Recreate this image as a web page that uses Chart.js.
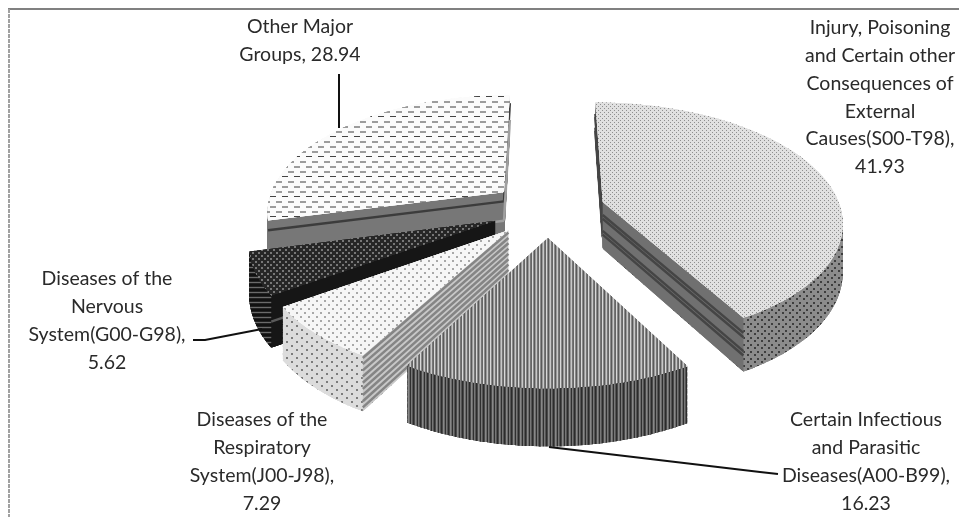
<!DOCTYPE html>
<html>
<head>
<meta charset="utf-8">
<style>
html, body { margin: 0; padding: 0; background: #fff; }
#wrap { width: 959px; height: 517px; }
canvas { filter: blur(0.5px); }
</style>
<script src="https://cdn.jsdelivr.net/npm/chart.js@4"></script>
</head>
<body>
<div id="wrap"><canvas id="myChart" width="959" height="517"></canvas></div>
<script>
let categories = [
  "Injury, Poisoning and Certain other Consequences of External Causes(S00-T98)",
  "Certain Infectious and Parasitic Diseases(A00-B99)",
  "Diseases of the Respiratory System(J00-J98)",
  "Diseases of the Nervous System(G00-G98)",
  "Other Major Groups"
];
let percentages = [41.93, 16.23, 7.29, 5.62, 28.94];

let labelLines = [
  ["Injury, Poisoning", "and Certain other", "Consequences of", "External", "Causes(S00-T98),", "41.93"],
  ["Certain Infectious", "and Parasitic", "Diseases(A00-B99),", "16.23"],
  ["Diseases of the", "Respiratory", "System(J00-J98),", "7.29"],
  ["Diseases of the", "Nervous", "System(G00-G98),", "5.62"],
  ["Other Major", "Groups, 28.94"]
];
let labelCentres = [[880, 28], [866, 420], [262, 420], [107, 279], [300, 27]];

// tilted pie: camera settings, nearer things get bigger
let camera = { cx: 548, cy: 209, tilt: 0.491, persp: 0.00065, depth: 47, explode: 57 };
let paintOrder = [4, 3, 0, 2, 1];

function tile(w, h, paint) {
  let c = document.createElement('canvas');
  c.width = w; c.height = h;
  let g = c.getContext('2d');
  paint(g);
  return g.createPattern(c, 'repeat');
}
function dots(w, h, bg, fg, list, dw, dh) {
  return tile(w, h, g => {
    g.fillStyle = bg; g.fillRect(0, 0, w, h);
    g.fillStyle = fg;
    list.forEach(p => g.fillRect(p[0], p[1], dw, dh));
  });
}
function vstripes(cols) {
  return tile(cols.length, 2, g => {
    cols.forEach((c, i) => { g.fillStyle = c; g.fillRect(i, 0, 1, 2); });
  });
}
function hstripes(cols) {
  return tile(2, cols.length, g => {
    cols.forEach((c, i) => { g.fillStyle = c; g.fillRect(0, i, 2, 1); });
  });
}
function dashRows() {
  return tile(12, 40, g => {
    g.fillStyle = '#fbfbfb'; g.fillRect(0, 0, 12, 40);
    for (let r = 0; r < 8; r++) {
      let dark = r == 3 || r == 7;
      g.fillStyle = dark ? '#444444' : '#9c9c9c';
      g.fillRect(r % 2 ? 6 : 0, r * 5 + 1, 6, dark ? 1 : 2);
    }
  });
}

let topFill = [
  dots(4, 4, '#e0e0e0', '#8e8e8e', [[0, 0], [2, 2]], 1, 1),
  vstripes(['#d8d8d8', '#8a8a8a', '#5a5a5a', '#9a9a9a', '#c8c8c8', '#777777', '#666666']),
  dots(8, 8, '#f6f6f6', '#a8a8a8', [[0, 0], [4, 4]], 2, 2),
  dots(6, 6, '#262626', '#777777', [[0, 0], [3, 3]], 2, 2),
  dashRows()
];
let rimFill = [
  dots(7, 7, '#8c8c8c', '#3e3e3e', [[1, 1], [5, 4]], 2, 2),
  vstripes(['#2c2c2c', '#4a4a4a', '#888888', '#6a6a6a', '#303030', '#777777', '#555555']),
  dots(10, 8, '#dcdcdc', '#7c7c7c', [[1, 1], [6, 5]], 2, 2),
  hstripes(['#111111', '#222222', '#6a6a6a', '#222222', '#111111']),
  '#777777'
];
// stripes on the flat cut faces: base colour, then [fraction, colour] lines
let faceFill = [
  { base: '#707070', lines: [[0.28, '#454545'], [0.36, '#454545'], [0.62, '#454545'], [0.7, '#454545']] },
  { base: '#555555', lines: [] },
  { base: '#c8c8c8', lines: [0.05, 0.16, 0.27, 0.38, 0.49, 0.6, 0.71, 0.82, 0.93].map(f => [f, '#858585']) },
  { base: '#161616', lines: [[0.5, '#5a5a5a']] },
  { base: '#777777', lines: [[0.2, '#3c3c3c'], [0.62, '#a0a0a0']] }
];

// ground position (x right, y to viewer, z down in 0..1) to screen
function project(x, y, z) {
  let s = 1 / (1 - camera.persp * y);
  return [camera.cx + s * x, camera.cy + s * (camera.tilt * y + z * camera.depth)];
}

function sliceFrame(arc) {
  let mid = (arc.startAngle + arc.endAngle) / 2;
  return { ox: Math.cos(mid) * camera.explode, oy: Math.sin(mid) * camera.explode };
}

// draw one library arc in thin wedges, each fitted to the projected corners
function drawWedges(ctx, arc, frame, z) {
  let a0 = arc.startAngle, a1 = arc.endAngle;
  let n = Math.max(2, Math.ceil((a1 - a0) / 0.05));
  let R = arc.outerRadius;
  let A = project(frame.ox, frame.oy, z);
  let oldOptions = arc.options;
  arc.options = Object.assign({}, oldOptions, { backgroundColor: '#000', borderWidth: 0 });
  for (let i = 0; i < n; i++) {
    let a = a0 + (a1 - a0) * i / n;
    let b = a0 + (a1 - a0) * (i + 1) / n;
    let P = project(frame.ox + R * Math.cos(a), frame.oy + R * Math.sin(a), z);
    let Q = project(frame.ox + R * Math.cos(b), frame.oy + R * Math.sin(b), z);
    let ux = R * Math.cos(a), uy = R * Math.sin(a), vx = R * Math.cos(b), vy = R * Math.sin(b);
    let det = ux * vy - uy * vx;
    let px = P[0] - A[0], py = P[1] - A[1], qx = Q[0] - A[0], qy = Q[1] - A[1];
    let m00 = (px * vy - qx * uy) / det, m01 = (qx * ux - px * vx) / det;
    let m10 = (py * vy - qy * uy) / det, m11 = (qy * ux - py * vx) / det;
    ctx.save();
    ctx.transform(m00, m10, m01, m11,
      A[0] - m00 * arc.x - m01 * arc.y, A[1] - m10 * arc.x - m11 * arc.y);
    arc.startAngle = Math.max(a0, a - 0.004);
    arc.endAngle = Math.min(a1, b + 0.004);
    arc.draw(ctx);
    ctx.restore();
  }
  arc.startAngle = a0; arc.endAngle = a1;
  arc.options = oldOptions;
}

// wedges go on a spare canvas as a mask, then the pattern is poured into it
let spare = document.createElement('canvas');
function paintMasked(ctx, fill, drawMask) {
  spare.width = ctx.canvas.width;
  spare.height = ctx.canvas.height;
  let g = spare.getContext('2d');
  g.setTransform(ctx.getTransform());
  drawMask(g);
  g.setTransform(1, 0, 0, 1, 0, 0);
  g.globalCompositeOperation = 'source-in';
  g.fillStyle = fill;
  g.fillRect(0, 0, spare.width, spare.height);
  ctx.save();
  ctx.setTransform(1, 0, 0, 1, 0, 0);
  // three passes close the thin gaps where the wedges meet near the tip
  for (let k = 0; k < 3; k++) ctx.drawImage(spare, 0, 0);
  ctx.restore();
}

function drawFace(ctx, frame, rimAngle, R, style, flip) {
  let rx = frame.ox + R * Math.cos(rimAngle), ry = frame.oy + R * Math.sin(rimAngle);
  let a = project(frame.ox, frame.oy, 0), b = project(rx, ry, 0);
  let c = project(rx, ry, 1), d = project(frame.ox, frame.oy, 1);
  let area = (b[0] - a[0]) * (d[1] - a[1]) - (b[1] - a[1]) * (d[0] - a[0]);
  if ((area > 0) !== flip) return;
  ctx.fillStyle = style.base;
  ctx.beginPath();
  ctx.moveTo(a[0], a[1]); ctx.lineTo(b[0], b[1]); ctx.lineTo(c[0], c[1]); ctx.lineTo(d[0], d[1]);
  ctx.closePath();
  ctx.fill();
  ctx.lineWidth = 2.5;
  style.lines.forEach(l => {
    ctx.strokeStyle = l[1];
    ctx.beginPath();
    ctx.moveTo(a[0], a[1] + (d[1] - a[1]) * l[0]);
    ctx.lineTo(b[0], b[1] + (c[1] - b[1]) * l[0]);
    ctx.stroke();
  });
}

let tiltedPie = {
  id: 'tiltedPie',
  beforeDatasetsDraw(chart) {
    let ctx = chart.ctx;
    let arcs = chart.getDatasetMeta(0).data;
    paintOrder.forEach(i => {
      let arc = arcs[i];
      let frame = sliceFrame(arc);
      paintMasked(ctx, rimFill[i], g => {
        for (let z = 1; z > 0; z -= 1 / camera.depth) drawWedges(g, arc, frame, z);
      });
      drawFace(ctx, frame, arc.startAngle, arc.outerRadius, faceFill[i], false);
      drawFace(ctx, frame, arc.endAngle, arc.outerRadius, faceFill[i], true);
      paintMasked(ctx, topFill[i], g => drawWedges(g, arc, frame, 0));
    });
    return false;
  },
  afterDraw(chart) {
    let ctx = chart.ctx;
    // chart frame, top and left only
    ctx.save();
    ctx.lineWidth = 2;
    ctx.strokeStyle = '#808080';
    ctx.beginPath();
    ctx.moveTo(959, 9); ctx.lineTo(8, 9);
    ctx.stroke();
    ctx.strokeStyle = '#a0a0a0';
    ctx.setLineDash([4, 1]);
    ctx.beginPath();
    ctx.moveTo(9, 9); ctx.lineTo(9, 517);
    ctx.stroke();
    ctx.setLineDash([]);
    // leader lines
    ctx.strokeStyle = '#111';
    ctx.lineWidth = 2;
    [[[339, 128], [339, 74]],
     [[193, 340], [205, 340], [262, 329]],
     [[549, 447], [760, 472], [778, 474]]].forEach(pts => {
      ctx.beginPath();
      pts.forEach((p, k) => k ? ctx.lineTo(p[0], p[1]) : ctx.moveTo(p[0], p[1]));
      ctx.stroke();
    });
    // labels
    ctx.fillStyle = '#2a2a2a';
    ctx.font = '19.5px Lato';
    ctx.textAlign = 'center';
    ctx.textBaseline = 'middle';
    labelLines.forEach((lines, i) => {
      lines.forEach((t, k) => ctx.fillText(t, labelCentres[i][0], labelCentres[i][1] + k * 27.8));
    });
    ctx.restore();
  }
};

new Chart(document.getElementById('myChart'), {
  type: 'pie',
  data: {
    labels: categories,
    datasets: [{ data: percentages, backgroundColor: topFill, borderWidth: 0, radius: 238 }]
  },
  options: {
    responsive: false,
    animation: false,
    layout: { padding: 0 },
    plugins: { legend: { display: false }, tooltip: { enabled: false } }
  },
  plugins: [tiltedPie]
});
</script>
</body>
</html>
